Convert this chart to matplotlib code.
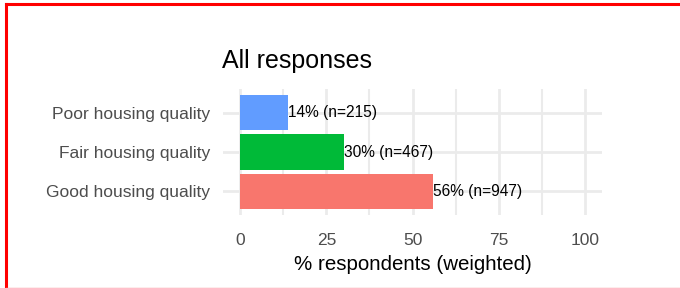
import matplotlib
matplotlib.use("Agg")
import matplotlib.pyplot as plt
from matplotlib.lines import Line2D

categories = ["Good housing quality", "Fair housing quality", "Poor housing quality"]
percents = [56, 30, 14]
counts = [947, 467, 215]
colors = ["#F8766D", "#00BA38", "#619CFF"]
xticks = [0, 25, 50, 75, 100]

plt.rcParams['font.family'] = ['Liberation Sans', 'DejaVu Sans']
W, H = 680, 288
fig = plt.figure(figsize=(W/100, H/100), dpi=100)
ax = fig.add_axes([223/W, 1-215/H, (602-223)/W, (215-89)/H])

ypos = list(range(1, len(categories)+1))
ax.barh(ypos, percents, height=0.9, color=colors, zorder=3)
for y, p, n in zip(ypos, percents, counts):
    ax.text(p, y, f"{p}% (n={n})", va='center', ha='left', fontsize=11.2, color='black', zorder=4)

ax.set_xlim(-5, 105)
ax.set_ylim(0.4, 3.6)
ax.set_yticks(ypos)
ax.set_yticklabels(categories)
ax.set_xticks(xticks)
ax.set_xticks([12.5, 37.5, 62.5, 87.5], minor=True)
ax.tick_params(axis='both', which='both', length=0, labelsize=12.5, labelcolor='#4D4D4D')
ax.tick_params(axis='x', pad=13)
ax.tick_params(axis='y', pad=9)
ax.grid(True, which='major', color='#EBEBEB', linewidth=2.0, zorder=0)
ax.grid(True, which='minor', axis='x', color='#EBEBEB', linewidth=1.5, zorder=0)
for s in ax.spines.values():
    s.set_visible(False)
ax.set_xlabel("% respondents (weighted)", fontsize=14.8, color='black', labelpad=5)
fig.text(222/W, 1-61/H, "All responses", fontsize=18, color='black', va='center', ha='left')

# red frame
fig.add_artist(Line2D([6/W, 1], [1-4/H, 1-4/H], color='#FF0000', linewidth=2.2, transform=fig.transFigure))
fig.add_artist(Line2D([6/W, 6/W], [1-4/H, 0], color='#FF0000', linewidth=2.2, transform=fig.transFigure))
fig.add_artist(Line2D([6/W, 1], [0.5/H, 0.5/H], color='#F5A0A0', linewidth=1.0, transform=fig.transFigure))

fig.savefig("out.png", dpi=100)
